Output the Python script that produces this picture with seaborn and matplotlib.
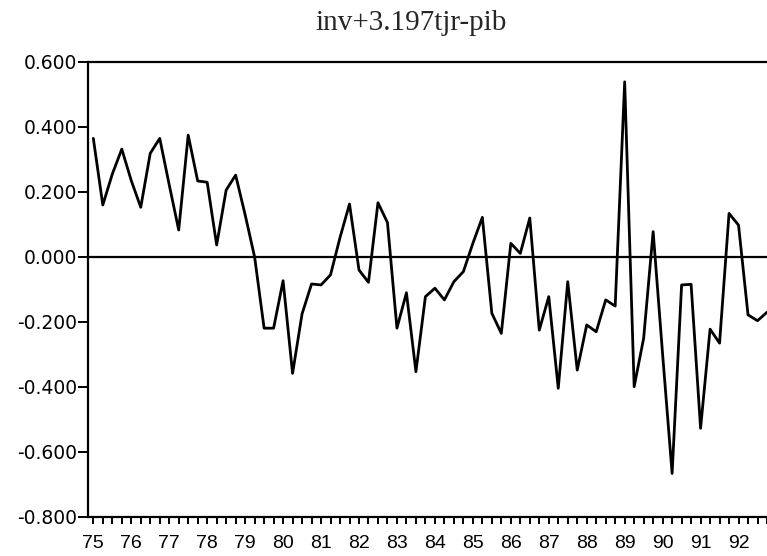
import numpy as np
import pandas as pd
import seaborn as sns
import matplotlib.pyplot as plt

# quarterly residual, 1975Q1 .. 1992Q4
resid = [
    0.365, 0.160, 0.255, 0.332,    # 75
    0.235, 0.153, 0.319, 0.365,    # 76
    0.222, 0.083, 0.375, 0.234,    # 77
    0.230, 0.037, 0.206, 0.252,    # 78
    0.130, 0.000, -0.219, -0.219,  # 79
    -0.073, -0.358, -0.175, -0.083,  # 80
    -0.086, -0.055, 0.060, 0.163,  # 81
    -0.040, -0.078, 0.167, 0.106,  # 82
    -0.219, -0.110, -0.353, -0.122,  # 83
    -0.096, -0.132, -0.076, -0.045,  # 84
    0.042, 0.122, -0.173, -0.235,  # 85
    0.042, 0.011, 0.120, -0.225,   # 86
    -0.122, -0.404, -0.076, -0.348,  # 87
    -0.209, -0.230, -0.132, -0.151,  # 88
    0.539, -0.399, -0.250, 0.078,  # 89
    -0.300, -0.666, -0.086, -0.084,  # 90
    -0.527, -0.222, -0.265, 0.134,  # 91
    0.098, -0.178, -0.196, -0.170,  # 92
]
years = list(range(1975, 1993))
year_labels = [str(y % 100) for y in years]
yticks = [-0.8, -0.6, -0.4, -0.2, 0.0, 0.2, 0.4, 0.6]
ytick_labels = ["-0.800", "-0.600", "-0.400", "-0.200", "0.000", "0.200", "0.400", "0.600"]
title = "inv+3.197tjr-pib"

df = pd.DataFrame({"t": 1975 + np.arange(len(resid)) / 4, "resid": resid})

sns.set_style("ticks")
plt.rcParams['font.family'] = ['DejaVu Sans']

fig = plt.figure(figsize=(7.67, 5.56), dpi=100)
ax = fig.add_axes([88 / 767, 1 - 517 / 556, 1 - 88 / 767, (517 - 62) / 556])

sns.lineplot(data=df, x="t", y="resid", color="black", linewidth=2.0, ax=ax)
ax.axhline(0, color="black", linewidth=1.6)

ax.set_xlim(1974.86, 1992.7)
ax.set_ylim(-0.8, 0.6)
ax.set_xlabel("")
ax.set_ylabel("")

ax.set_xticks(years)
ax.set_xticklabels(year_labels, fontsize=14, family="Liberation Sans")
ax.set_xticks(df["t"], minor=True)
ax.set_yticks(yticks)
ax.set_yticklabels(ytick_labels, fontsize=13.5)

ax.tick_params(axis="x", which="both", direction="out", length=5, width=1.4,
               colors="black", pad=8)
ax.tick_params(axis="y", direction="out", length=7, width=1.4, pad=1, colors="black")

for side in ["left", "bottom", "top"]:
    ax.spines[side].set_linewidth(1.6)
    ax.spines[side].set_color("black")
ax.spines["right"].set_visible(False)

fig.text(411 / 767, 1 - 23 / 556, title, ha="center", va="center",
         fontsize=21, family="Liberation Serif")

fig.savefig("out.png", dpi=100)
